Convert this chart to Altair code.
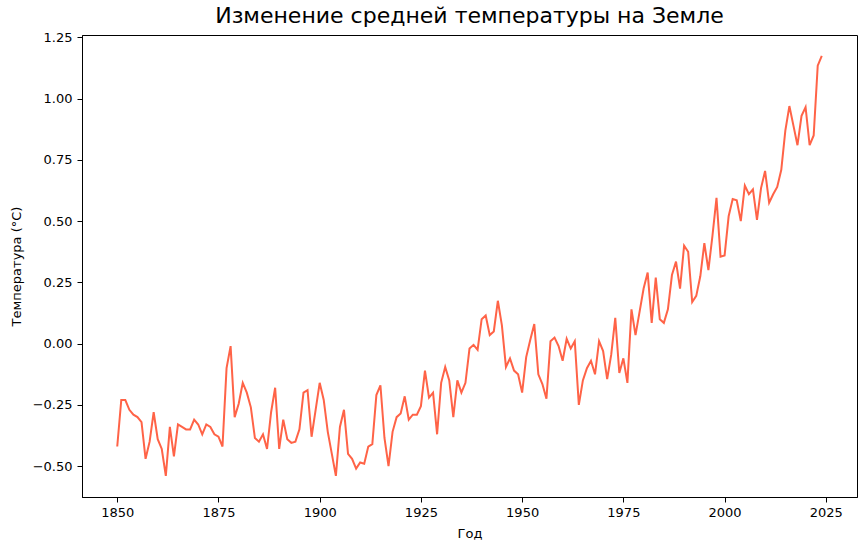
import altair as alt
import pandas as pd

years = list(range(1850, 2025))
temps = [
    # 1850-1859
    -0.42, -0.23, -0.23, -0.27, -0.29, -0.30, -0.32, -0.47, -0.40, -0.28,
    # 1860-1869
    -0.39, -0.43, -0.54, -0.34, -0.46, -0.33, -0.34, -0.35, -0.35, -0.31,
    # 1870-1879
    -0.33, -0.37, -0.33, -0.34, -0.37, -0.38, -0.42, -0.10, -0.01, -0.30,
    # 1880-1889
    -0.245, -0.16, -0.20, -0.26, -0.385, -0.40, -0.37, -0.43, -0.28, -0.18,
    # 1890-1899
    -0.43, -0.31, -0.39, -0.405, -0.40, -0.35, -0.20, -0.19, -0.38, -0.27,
    # 1900-1909
    -0.16, -0.23, -0.36, -0.45, -0.54, -0.34, -0.27, -0.45, -0.47, -0.51,
    # 1910-1919
    -0.485, -0.49, -0.42, -0.41, -0.21, -0.17, -0.385, -0.50, -0.36, -0.30,
    # 1920-1929
    -0.285, -0.215, -0.31, -0.29, -0.29, -0.255, -0.11, -0.22, -0.20, -0.37,
    # 1930-1939
    -0.16, -0.095, -0.15, -0.30, -0.15, -0.20, -0.16, -0.02, -0.005, -0.025,
    # 1940-1949
    0.10, 0.115, 0.035, 0.05, 0.175, 0.075, -0.095, -0.06, -0.11, -0.125,
    # 1950-1959
    -0.20, -0.055, 0.015, 0.08, -0.125, -0.165, -0.225, 0.01, 0.025, -0.01,
    # 1960-1969
    -0.07, 0.02, -0.02, 0.01, -0.25, -0.15, -0.10, -0.07, -0.125, 0.01,
    # 1970-1979
    -0.03, -0.145, -0.045, 0.105, -0.12, -0.06, -0.16, 0.14, 0.035, 0.13,
    # 1980-1989
    0.225, 0.29, 0.085, 0.27, 0.10, 0.085, 0.14, 0.28, 0.335, 0.225,
    # 1990-1999
    0.40, 0.375, 0.17, 0.195, 0.275, 0.41, 0.30, 0.44, 0.595, 0.355,
    # 2000-2009
    0.36, 0.52, 0.59, 0.585, 0.50, 0.645, 0.61, 0.63, 0.505, 0.635,
    # 2010-2019
    0.705, 0.575, 0.61, 0.64, 0.71, 0.87, 0.97, 0.89, 0.81, 0.93,
    # 2020-2024
    0.965, 0.81, 0.85, 1.135, 1.175,
]

x_ticks = [1850, 1875, 1900, 1925, 1950, 1975, 2000, 2025]
y_ticks = [-0.50, -0.25, 0.00, 0.25, 0.50, 0.75, 1.00, 1.25]

df = pd.DataFrame({"year": years, "temp": temps})

font = "DejaVu Sans"

chart = (
    alt.Chart(df)
    .mark_line(color="#FF6347", strokeWidth=2)
    .encode(
        x=alt.X(
            "year:Q",
            scale=alt.Scale(domain=[1841.3, 2032.7], nice=False, zero=False),
            axis=alt.Axis(
                values=x_ticks,
                format="d",
                title="Год",
                grid=False,
                tickSize=5,
                tickColor="black",
                domainColor="black",
                labelPadding=4,
                titlePadding=8,
            ),
        ),
        y=alt.Y(
            "temp:Q",
            scale=alt.Scale(domain=[-0.626, 1.26], nice=False, zero=False),
            axis=alt.Axis(
                values=y_ticks,
                format=".2f",
                title="Температура (°C)",
                grid=False,
                tickSize=5,
                tickColor="black",
                domainColor="black",
                labelPadding=5,
                titlePadding=9,
            ),
        ),
    )
    .properties(
        width=775,
        height=462,
        title=alt.TitleParams(
            "Изменение средней температуры на Земле",
            fontSize=22,
            font=font,
            fontWeight="normal",
            color="black",
            anchor="middle",
            offset=3,
        ),
        autosize=alt.AutoSizeParams(type="none"),
        padding={"left": 82, "top": 35, "right": 9, "bottom": 53},
    )
    .configure_axis(
        labelFont=font,
        titleFont=font,
        labelFontSize=13,
        titleFontSize=13,
        labelColor="black",
        titleColor="black",
        titleFontWeight="normal",
    )
    .configure_view(stroke="black", strokeWidth=1)
)

chart.save("out.html", embed_options={"renderer": "svg", "actions": False})
